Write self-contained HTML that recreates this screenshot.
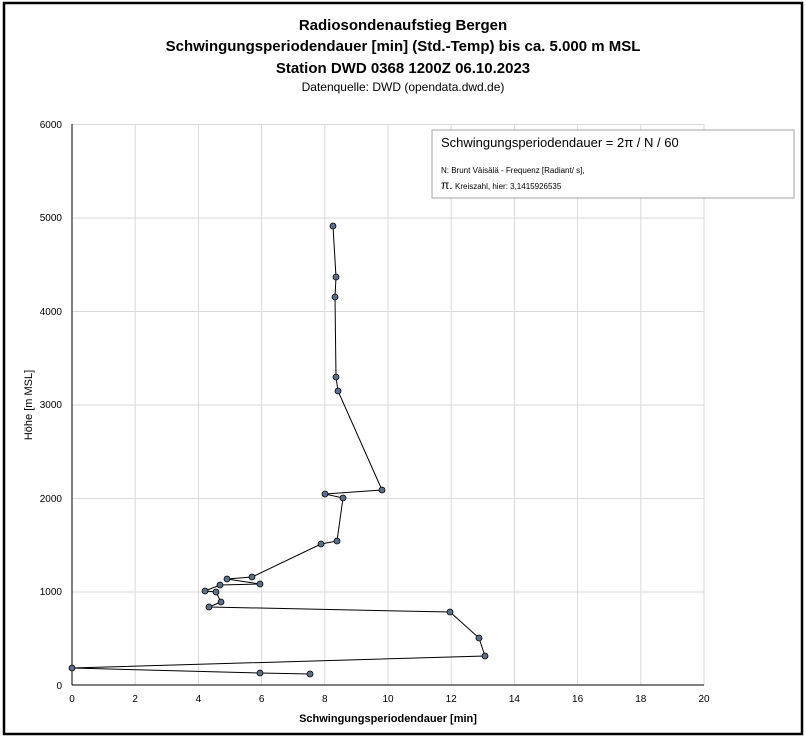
<!DOCTYPE html>
<html><head><meta charset="utf-8"><style>
html,body{margin:0;padding:0;background:#fff;}
svg{display:block;font-family:"Liberation Sans",sans-serif;}
</style></head><body>
<svg width="806" height="739" viewBox="0 0 806 739" xmlns="http://www.w3.org/2000/svg">
<rect x="0" y="0" width="806" height="739" fill="#fff"/>
<rect x="4" y="3" width="798" height="731" fill="#fff" stroke="#000" stroke-width="2.5"/>
<g font-weight="bold" font-size="15" text-anchor="middle" fill="#000">
<text x="403" y="30">Radiosondenaufstieg Bergen</text>
<text x="403" y="51">Schwingungsperiodendauer [min] (Std.-Temp) bis ca. 5.000 m MSL</text>
<text x="403" y="73">Station DWD 0368 1200Z 06.10.2023</text>
</g>
<text x="403" y="91" font-size="12" text-anchor="middle">Datenquelle: DWD (opendata.dwd.de)</text>
<g stroke="#d9d9d9" stroke-width="1">
<line x1="135.2" y1="124" x2="135.2" y2="685"/><line x1="198.4" y1="124" x2="198.4" y2="685"/>
<line x1="261.6" y1="124" x2="261.6" y2="685"/><line x1="324.8" y1="124" x2="324.8" y2="685"/>
<line x1="388" y1="124" x2="388" y2="685"/><line x1="451.2" y1="124" x2="451.2" y2="685"/>
<line x1="514.4" y1="124" x2="514.4" y2="685"/><line x1="577.6" y1="124" x2="577.6" y2="685"/>
<line x1="640.8" y1="124" x2="640.8" y2="685"/><line x1="704" y1="124" x2="704" y2="685"/>
<line x1="72" y1="124.5" x2="704" y2="124.5"/><line x1="72" y1="218" x2="704" y2="218"/>
<line x1="72" y1="311.5" x2="704" y2="311.5"/><line x1="72" y1="405" x2="704" y2="405"/>
<line x1="72" y1="498.5" x2="704" y2="498.5"/><line x1="72" y1="592" x2="704" y2="592"/>
</g>
<g stroke="#000" stroke-width="1">
<line x1="72" y1="124" x2="72" y2="685"/>
<line x1="72" y1="685" x2="704" y2="685"/>
<path id="yt" d=""/>
</g>
<g stroke="#000" stroke-width="1" id="ticks"></g>
<g font-size="10" text-anchor="end" fill="#000">
<text x="62" y="689">0</text><text x="62" y="595">1000</text><text x="62" y="502">2000</text>
<text x="62" y="408">3000</text><text x="62" y="315">4000</text><text x="62" y="221">5000</text><text x="62" y="128">6000</text>
</g>
<g font-size="10" text-anchor="middle" fill="#000">
<text x="72" y="702">0</text><text x="135.2" y="702">2</text><text x="198.4" y="702">4</text><text x="261.6" y="702">6</text>
<text x="324.8" y="702">8</text><text x="388" y="702">10</text><text x="451.2" y="702">12</text><text x="514.4" y="702">14</text>
<text x="577.6" y="702">16</text><text x="640.8" y="702">18</text><text x="704" y="702">20</text>
</g>
<text x="388" y="722" font-size="11" font-weight="bold" text-anchor="middle">Schwingungsperiodendauer [min]</text>
<text transform="translate(32,405) rotate(-90)" font-size="11" text-anchor="middle">Höhe [m MSL]</text>
<polyline fill="none" stroke="#000" stroke-width="1" points="333,226 336,277 335,297 336,377 338,391 382,490 325,494 343,498 337,541 321,544 252,577 227,579 260,584 220,585 205,591 216,592 221,602 209,607 450,612 479,638 485,656 72,668 260,673 310,674"/>
<g fill="#5b6f88" stroke="#000" stroke-width="0.8">
<circle cx="333" cy="226" r="3"/><circle cx="336" cy="277" r="3"/><circle cx="335" cy="297" r="3"/><circle cx="336" cy="377" r="3"/>
<circle cx="338" cy="391" r="3"/><circle cx="382" cy="490" r="3"/><circle cx="325" cy="494" r="3"/><circle cx="343" cy="498" r="3"/>
<circle cx="337" cy="541" r="3"/><circle cx="321" cy="544" r="3"/><circle cx="252" cy="577" r="3"/><circle cx="227" cy="579" r="3"/>
<circle cx="260" cy="584" r="3"/><circle cx="220" cy="585" r="3"/><circle cx="205" cy="591" r="3"/><circle cx="216" cy="592" r="3"/>
<circle cx="221" cy="602" r="3"/><circle cx="209" cy="607" r="3"/><circle cx="450" cy="612" r="3"/><circle cx="479" cy="638" r="3"/>
<circle cx="485" cy="656" r="3"/><circle cx="72" cy="668" r="3"/><circle cx="260" cy="673" r="3"/><circle cx="310" cy="674" r="3"/>
</g>
<rect x="432" y="130" width="362" height="68" fill="#fff" stroke="#a6a6a6" stroke-width="1"/>
<text x="441" y="147" font-size="13">Schwingungsperiodendauer = 2π / N / 60</text>
<text x="441" y="173" font-size="8">N: Brunt Väisälä - Frequenz [Radiant/ s],</text>
<text x="441" y="189" font-size="12">π.</text>
<text x="455" y="189" font-size="8">Kreiszahl, hier: 3,1415926535</text>
<script>
var g=document.getElementById('ticks'),s='';
for(var i=0;i<=100;i++){var x=72+i*6.32;var maj=i%10==0;
 s+='<line x1="'+x+'" y1="'+(maj?680:681)+'" x2="'+x+'" y2="'+(maj?689:685)+'"/>';}
for(var j=0;j<=30;j++){var y=685-j*18.7;var maj=j%5==0;
 s+='<line x1="'+(maj?68:72)+'" y1="'+y+'" x2="'+(maj?77:76)+'" y2="'+y+'"/>';}
g.innerHTML=s;
</script>
</svg>
</body></html>
